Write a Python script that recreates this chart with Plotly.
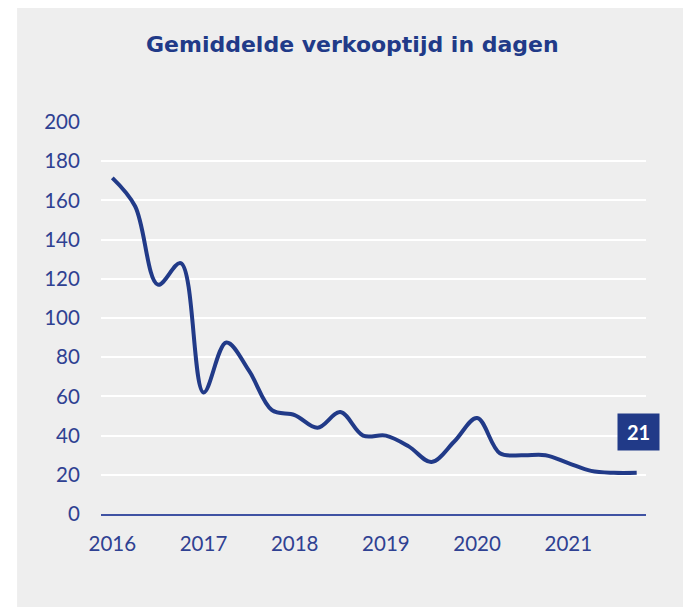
import plotly.graph_objects as go

# Quarterly data, 2016 Q1 .. 2021 Q4
years = [2016, 2017, 2018, 2019, 2020, 2021]
quarters = [1, 2, 3, 4]
periods = [y + (q - 1) / 4 for y in years for q in quarters]
days = [171.5, 157, 117, 128,
        62, 87.5, 73, 53,
        50.5, 44, 52, 40,
        40, 34.5, 26.5, 37,
        49, 31, 30, 30,
        26, 22, 21, 21]
tick_vals = years
tick_text = [str(y) for y in years]
y_ticks = list(range(0, 201, 20))
last_label = "21"
title_text = "Gemiddelde verkooptijd in dagen"

NAVY = "#213a88"
TICK = "#2f4192"
BG = "#eeeeee"

fig = go.Figure()
fig.add_trace(go.Scatter(
    x=periods, y=days, mode="lines",
    line=dict(color=NAVY, width=4, shape="spline", smoothing=1.0),
    hoverinfo="skip", showlegend=False,
))

fig.update_layout(
    width=683, height=599,
    margin=dict(l=93, r=45, t=114, b=93),
    paper_bgcolor="white",
    plot_bgcolor="rgba(0,0,0,0)",
    font=dict(family="Lato, 'Noto Sans', sans-serif", color=TICK),
    xaxis=dict(
        range=[2015.876, 2021.852],
        tickvals=tick_vals, ticktext=tick_text,
        showgrid=False, zeroline=False,
        showline=True, linecolor="#3f52a3", linewidth=1.5,
        ticks="outside", ticklen=11, tickcolor="rgba(0,0,0,0)",
        tickfont=dict(size=20.5, color=TICK),
    ),
    yaxis=dict(
        range=[0, 200],
        tickvals=y_ticks,
        showgrid=True, gridcolor="white", gridwidth=1.8,
        zeroline=False, showline=False,
        ticks="outside", ticklen=16, tickcolor="rgba(0,0,0,0)",
        tickfont=dict(size=20.5, color=TICK),
    ),
    shapes=[dict(
        type="rect", xref="paper", yref="paper",
        x0=-0.154, x1=1.09, y0=-0.25, y1=1.2916,
        fillcolor=BG, line=dict(width=0), layer="below",
    )],
    annotations=[
        dict(
            text=f"<b>{title_text}</b>", xref="paper", yref="paper",
            x=0.4618, y=1.197, xanchor="center", yanchor="middle",
            showarrow=False,
            font=dict(family="'DejaVu Sans', sans-serif", size=22, color=NAVY),
        ),
        dict(
            text=f"<b>{last_label}</b>", xref="x", yref="y",
            x=2021.77, y=42, xanchor="center", yanchor="middle",
            showarrow=False, width=41, height=36, bgcolor=NAVY,
            borderpad=0, font=dict(size=20, color="white"),
        ),
    ],
)

fig.write_html("out.html")
